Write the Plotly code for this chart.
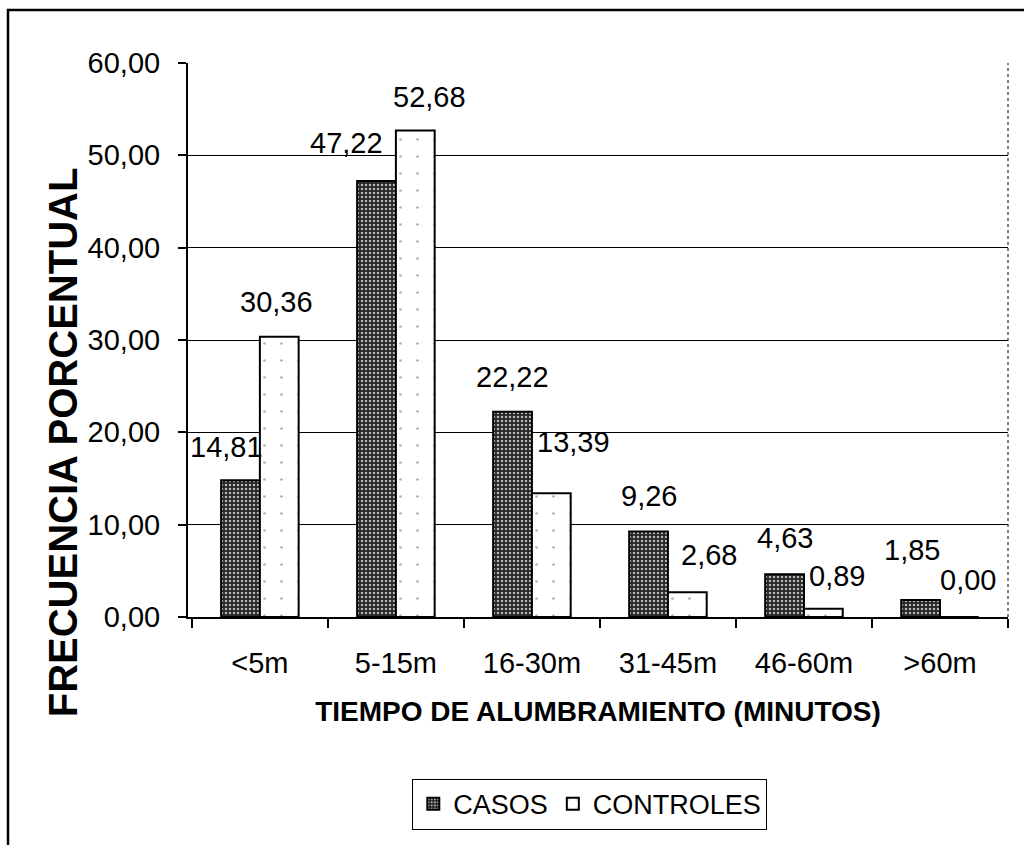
import plotly.graph_objects as go

# Placental delivery time (minutes) – percentage frequency per group
categories = ["<5m", "5-15m", "16-30m", "31-45m", "46-60m", ">60m"]
casos = [14.81, 47.22, 22.22, 9.26, 4.63, 1.85]
controles = [30.36, 52.68, 13.39, 2.68, 0.89, 0.00]
y_ticks = [0, 10, 20, 30, 40, 50, 60]

# Label nudges in pixels (dx, extra height above the bar top)
casos_label_dx = [-14, -30, 0, 0, 0, -9]
casos_label_rise = [33, 38, 35, 36, 36, 50]
controles_label_dx = [-3, 14, 22, 22, 14, 9]
controles_label_rise = [35, 34, 51, 37, 33, 37]

FONT = "Liberation Sans, Arial, sans-serif"
BARGAP = 0.43
TEXT_SIZE = 29


def fmt(v):
    return f"{v:.2f}".replace(".", ",")


fig = go.Figure()
fig.add_trace(go.Bar(
    name="CASOS", x=categories, y=casos,
    marker=dict(
        color="#262626",
        line=dict(color="black", width=2),
        pattern=dict(shape=".", fillmode="replace", bgcolor="#262626",
                     fgcolor="#b8b8b8", size=4, solidity=0.3),
    ),
))
fig.add_trace(go.Bar(
    name="CONTROLES", x=categories, y=controles,
    marker=dict(
        color="white",
        line=dict(color="black", width=2),
        pattern=dict(shape=".", fillmode="replace", bgcolor="white",
                     fgcolor="#b0b0b0", size=17, solidity=0.02),
    ),
))

# Value labels above each bar
half = (1 - BARGAP) / 4
for i, v in enumerate(casos):
    fig.add_annotation(x=i - half, y=v, text=fmt(v), showarrow=False,
                       xref="x", yref="y", yanchor="middle",
                       xshift=casos_label_dx[i], yshift=casos_label_rise[i],
                       font=dict(family=FONT, size=TEXT_SIZE, color="black"))
for i, v in enumerate(controles):
    fig.add_annotation(x=i + half, y=v, text=fmt(v), showarrow=False,
                       xref="x", yref="y", yanchor="middle",
                       xshift=controles_label_dx[i], yshift=controles_label_rise[i],
                       font=dict(family=FONT, size=TEXT_SIZE, color="black"))

# Vertical axis title
fig.add_annotation(text="FRECUENCIA PORCENTUAL", textangle=-90, showarrow=False,
                   xref="paper", yref="paper", x=-0.152, y=0.316,
                   xanchor="center", yanchor="middle",
                   font=dict(family=FONT, size=40, color="black", weight="bold"))

# Dotted right edge of the plot area
fig.add_shape(type="line", xref="x domain", yref="y domain",
              x0=1, x1=1, y0=0, y1=1,
              line=dict(color="black", width=1, dash="dot"))
# Outer chart frame
fig.add_shape(type="rect", xref="paper", yref="paper",
              x0=-0.2195, x1=1.03, y0=-0.45, y1=1.0957,
              line=dict(color="black", width=2.5), fillcolor="rgba(0,0,0,0)")

fig.update_layout(
    width=1024, height=845,
    margin=dict(l=188, r=16, t=63, b=228),
    paper_bgcolor="white", plot_bgcolor="white",
    barmode="group", bargap=BARGAP, bargroupgap=0,
    separators=",.",
    font=dict(family=FONT, color="black"),
    legend=dict(
        orientation="h", x=0.49, xanchor="center", y=-0.292, yanchor="top",
        font=dict(family=FONT, size=27, color="black"),
        bordercolor="black", borderwidth=1, bgcolor="white",
        itemwidth=30,
    ),
    xaxis=dict(
        type="category",
        tickson="boundaries", ticks="outside", ticklen=9, tickcolor="black",
        tickwidth=1.5,
        showline=True, linecolor="black", linewidth=2,
        tickfont=dict(family=FONT, size=TEXT_SIZE, color="black"),
        ticklabelstandoff=19,
        title=dict(text="TIEMPO DE ALUMBRAMIENTO (MINUTOS)", standoff=24,
                   font=dict(family=FONT, size=28, color="black", weight="bold")),
    ),
    yaxis=dict(
        range=[0, 60], tickvals=y_ticks, tickformat=".2f",
        ticks="outside", ticklen=8, tickcolor="black", tickwidth=1.5,
        showline=True, linecolor="black", linewidth=2,
        showgrid=True, gridcolor="black", gridwidth=1,
        zeroline=False,
        tickfont=dict(family=FONT, size=TEXT_SIZE, color="black"),
        ticklabelstandoff=12,
    ),
)

fig.write_html("out.html")
